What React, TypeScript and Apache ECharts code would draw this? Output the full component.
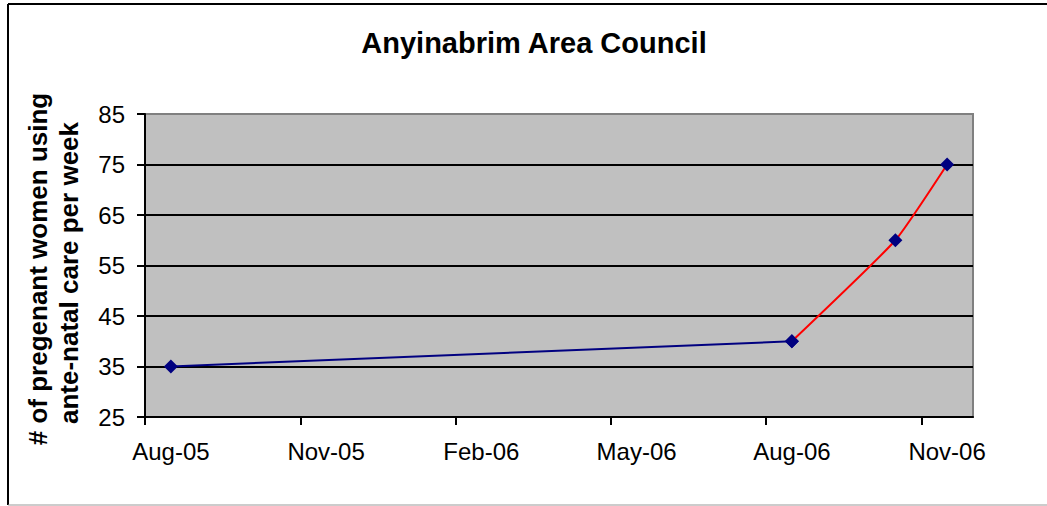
import React, { useEffect, useRef } from "react";
import * as echarts from "echarts";

// Month index 0 = Aug-05
const tickLabels = ["Aug-05", "Nov-05", "Feb-06", "May-06", "Aug-06", "Nov-06"];
const labelMonths = [0, 3, 6, 9, 12, 15];
const tickMonths = [-0.5, 2.5, 5.5, 8.5, 11.5, 14.5];
const baselineMonths = [0, 12];
const baselineValues = [35, 40];
const trendMonths = [12, 14, 15];
const trendValues = [40, 60, 75];

const FONT = "'Liberation Sans', Arial, sans-serif";

export default function App() {
  const ref = useRef<HTMLDivElement>(null);
  useEffect(() => {
    if (!ref.current) return;
    const chart = echarts.init(ref.current, undefined, { renderer: "svg" });
    chart.setOption({
      animation: false,
      backgroundColor: "#ffffff",
      grid: {
        left: 145,
        right: 74,
        top: 114,
        bottom: 89,
        show: true,
        backgroundColor: "#C0C0C0",
        borderColor: "#808080",
        borderWidth: 2,
      },
      xAxis: {
        type: "value",
        min: -0.5,
        max: 15.5,
        axisLine: { show: true, onZero: false, lineStyle: { color: "#000", width: 2 } },
        axisTick: {
          show: true,
          length: 8,
          customValues: tickMonths,
          lineStyle: { color: "#000", width: 2 },
        },
        axisLabel: {
          customValues: labelMonths,
          formatter: (v: number) => {
            const i = labelMonths.indexOf(Math.round(v));
            return i >= 0 ? tickLabels[i] : "";
          },
          color: "#000",
          fontSize: 24,
          fontFamily: FONT,
          margin: 22,
        },
        splitLine: { show: false },
      },
      yAxis: {
        type: "value",
        min: 25,
        max: 85,
        interval: 10,
        axisLine: { show: true, onZero: false, lineStyle: { color: "#000", width: 2 } },
        axisTick: { show: true, length: 8, lineStyle: { color: "#000", width: 2 } },
        axisLabel: {
          color: "#000",
          fontSize: 24,
          fontFamily: FONT,
          margin: 20,
        },
        splitLine: {
          show: true,
          showMinLine: false,
          showMaxLine: false,
          lineStyle: { color: "#000", width: 2 },
        },
      },
      series: [
        {
          type: "line",
          data: baselineMonths.map((m, i) => [m, baselineValues[i]]),
          lineStyle: { color: "#000080", width: 2 },
          itemStyle: { color: "#000080" },
          symbol: "diamond",
          symbolSize: 14,
          z: 3,
        },
        {
          type: "line",
          data: trendMonths.map((m, i) => [m, trendValues[i]]),
          smooth: 0.15,
          lineStyle: { color: "#FF0000", width: 2 },
          itemStyle: { color: "#000080" },
          symbol: "diamond",
          symbolSize: 14,
          z: 4,
        },
      ],
      graphic: [
        {
          type: "line",
          shape: { x1: 8, y1: 4, x2: 1047, y2: 4 },
          style: { stroke: "#000", lineWidth: 2 },
        },
        {
          type: "line",
          shape: { x1: 8, y1: 4, x2: 8, y2: 505 },
          style: { stroke: "#000", lineWidth: 2 },
        },
        {
          type: "line",
          shape: { x1: 8, y1: 505, x2: 1047, y2: 505 },
          style: { stroke: "#999", lineWidth: 1 },
        },
        {
          type: "text",
          x: 534,
          y: 43,
          style: {
            text: "Anyinabrim Area Council",
            fill: "#000",
            font: `bold 29px ${FONT}`,
            textAlign: "center",
            textVerticalAlign: "middle",
          },
        },
        {
          type: "text",
          x: 38,
          y: 269,
          rotation: Math.PI / 2,
          style: {
            text: "# of pregenant women using",
            fill: "#000",
            font: `bold 26px ${FONT}`,
            textAlign: "center",
            textVerticalAlign: "middle",
          },
        },
        {
          type: "text",
          x: 69,
          y: 273,
          rotation: Math.PI / 2,
          style: {
            text: "ante-natal care per week",
            fill: "#000",
            font: `bold 26px ${FONT}`,
            textAlign: "center",
            textVerticalAlign: "middle",
          },
        },
      ],
    });
    return () => chart.dispose();
  }, []);
  return (
    <div
      ref={ref}
      style={{ position: "fixed", left: 0, top: 0, width: 1047, height: 506 }}
    />
  );
}
